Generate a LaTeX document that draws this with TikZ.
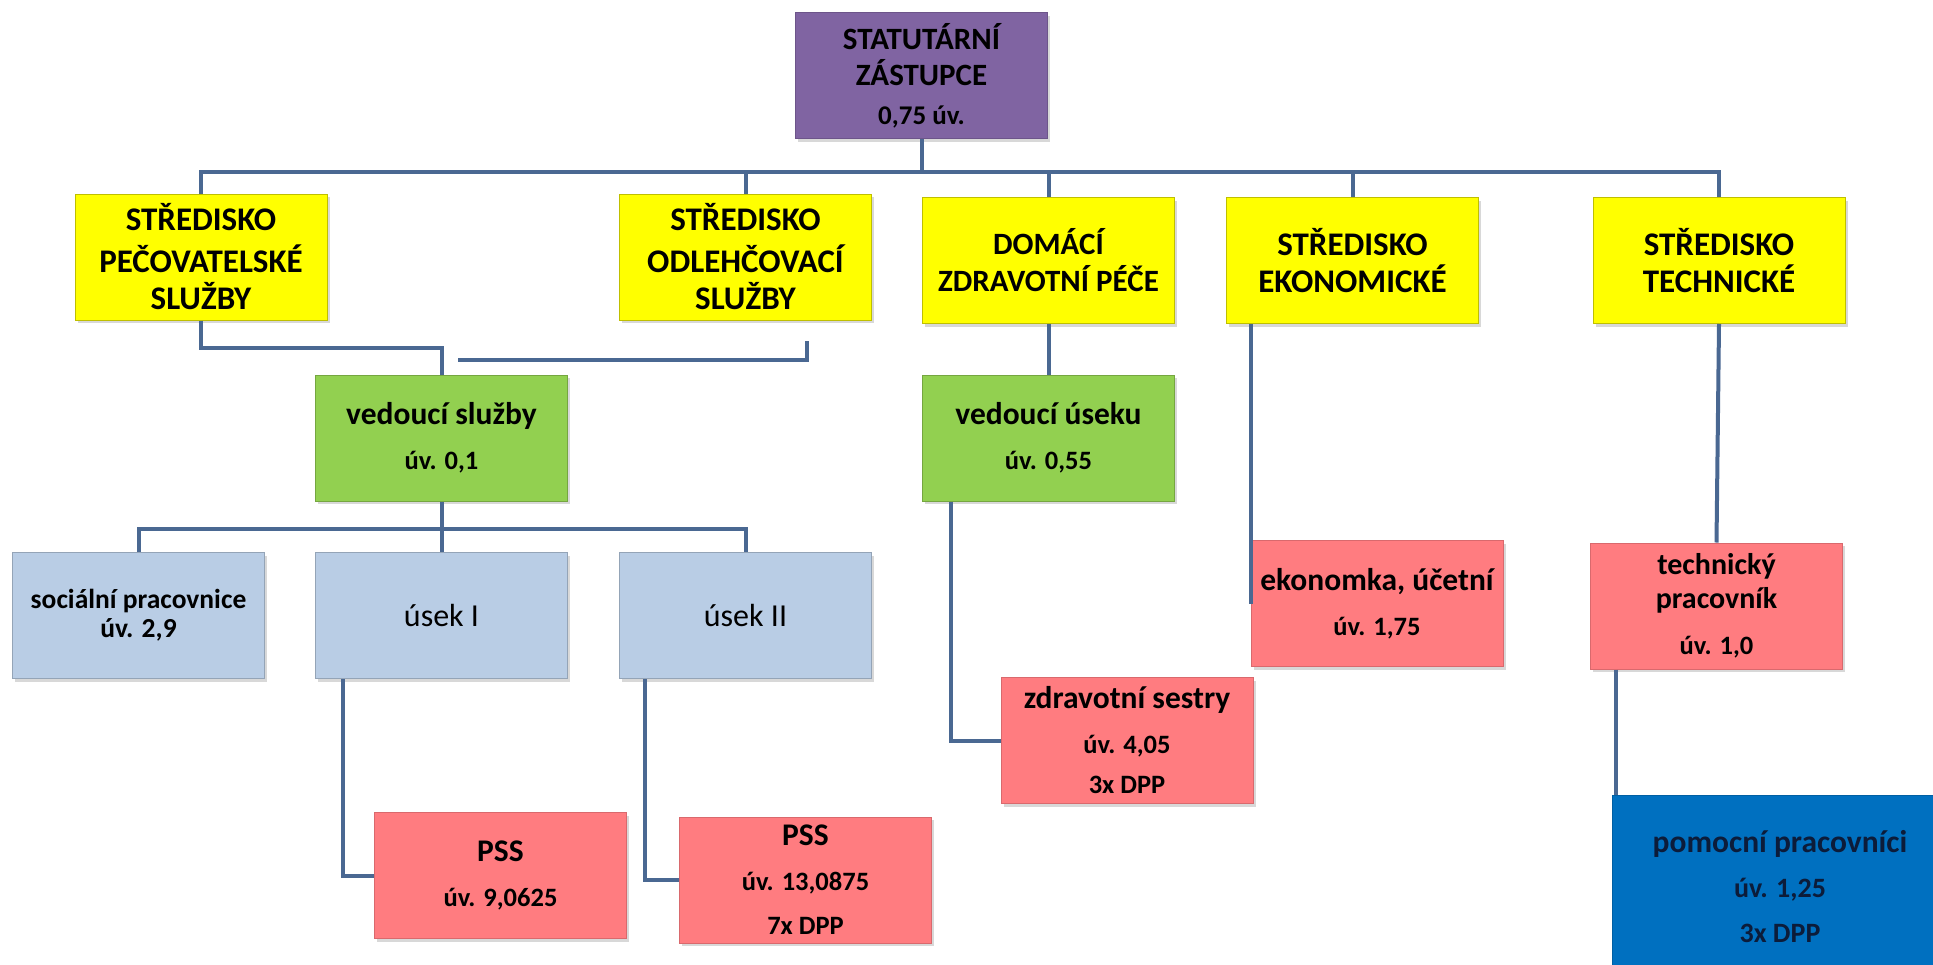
\documentclass[tikz,border=0pt]{standalone}
\usepackage{fontspec}
\setmainfont{Carlito}
\usepackage{tikz}
\usetikzlibrary{shadows}
\definecolor{orgpurple}{RGB}{128,100,162}
\definecolor{orgyellow}{RGB}{255,255,0}
\definecolor{orggreen}{RGB}{146,208,80}
\definecolor{orggrey}{RGB}{185,205,229}
\definecolor{orgred}{RGB}{255,124,128}
\definecolor{orgblue}{RGB}{0,112,192}
\definecolor{orgnavy}{RGB}{12,28,58}
\definecolor{orglink}{RGB}{74,104,146}
\newcommand{\uvline}{\fontsize{26.5}{45}\selectfont}

\begin{document}
\begin{tikzpicture}[x=1pt,y=-1pt,
            plainbox/.style={rectangle, minimum width=252pt, minimum height=126pt,
                inner sep=2pt, align=center, text=black, line width=1pt,
                font=\bfseries\fontsize{31.5}{45}\selectfont},
            box/.style={plainbox,
                drop shadow={shadow xshift=2.5pt, shadow yshift=-3pt, opacity=.3}},
            topbox/.style={box, fill=orgpurple, draw=orgpurple!85!black,
                font=\bfseries\fontsize{31}{36}\selectfont},
            unitbox/.style={box, fill=orgyellow, draw=orgyellow!75!black,
                font=\bfseries\fontsize{33}{37}\selectfont},
            headbox/.style={box, fill=orggreen, draw=orggreen!80!black},
            partbox/.style={box, fill=orggrey, draw=orggrey!80!black},
            staffbox/.style={box, fill=orgred, draw=orgred!85!black},
            helpbox/.style={plainbox, fill=orgblue, draw=orgblue!85!black, text=orgnavy,
                minimum width=336pt, minimum height=184pt},
            link/.style={draw=orglink, line width=4pt}]

            \fill[white] (0,0) rectangle (1933,964);
            \useasboundingbox (0,0) rectangle (1933,964);

            % vedeni a strediska
            \node[topbox] (stat) at (921.5,75.5) {STATUTÁRNÍ\\ZÁSTUPCE\\[3pt]{\fontsize{27}{36}\selectfont 0,75 úv.}};
            \node[unitbox] (sps) at (201,257) {STŘEDISKO\\[5pt]PEČOVATELSKÉ\\SLUŽBY};
            \node[unitbox] (osl) at (745.5,257) {STŘEDISKO\\[5pt]ODLEHČOVACÍ\\SLUŽBY};
            \node[unitbox, font=\bfseries\fontsize{31}{37}\selectfont] (dzp) at (1048.5,260.5) {DOMÁCÍ\\ZDRAVOTNÍ PÉČE};
            \node[unitbox] (sek) at (1352.5,260.5) {STŘEDISKO\\EKONOMICKÉ};
            \node[unitbox] (stech) at (1719,260.5) {STŘEDISKO\\TECHNICKÉ};

            % vedouci
            \node[headbox] (vs) at (441.5,438) {vedoucí služby\\{\uvline úv. 0,1}};
            \node[headbox] (vu) at (1048.5,438) {vedoucí úseku\\{\uvline úv. 0,55}};

            % useky a pracovnici
            \node[partbox, font=\bfseries\fontsize{27.5}{29}\selectfont] (soc) at (138.5,615.5) {sociální pracovnice\\úv. 2,9};
            \node[partbox, font=\fontsize{32}{45}\selectfont] (u1) at (441.5,615.5) {úsek I};
            \node[partbox, font=\fontsize{32}{45}\selectfont] (u2) at (745.5,615.5) {úsek II};
            \node[staffbox] (ekon) at (1377,603.5) {ekonomka, účetní\\{\uvline úv. 1,75}};
            \node[staffbox, font=\bfseries\fontsize{30}{34}\selectfont] (tp) at (1716.5,606) {technický\\pracovník\\[12pt]{\uvline úv. 1,0}};
            \node[staffbox] (zs) at (1127,740.5) {zdravotní sestry\\{\uvline úv. 4,05}\\[-5pt]{\uvline 3x DPP}};
            \node[staffbox] (pss1) at (500.5,875.5) {PSS\\{\uvline úv. 9,0625}};
            \node[staffbox] (pss2) at (805.5,880) {PSS\\{\uvline úv. 13,0875}\\[-1pt]{\uvline 7x DPP}};
            \node[helpbox] (pp) at (1780,887) {pomocní pracovníci\\{\fontsize{28}{44}\selectfont úv. 1,25}\\{\fontsize{28}{44}\selectfont 3x DPP}};

            % spojnice
            \coordinate (bus) at (0,172);
            \coordinate (bus2) at (0,529);
            \draw[link] (stat.south) -- (stat.south |- bus);
            \draw[link] (sps.north) -- (sps.north |- bus) -- (stech.north |- bus) -- (stech.north);
            \foreach \n in {osl,dzp,sek}
                \draw[link] (\n.north |- bus) -- (\n.north);

            \draw[link] (sps.south) -- ++(0,27) -| (vs.north);
            \coordinate (oslA) at (807,341);
            \coordinate (oslB) at (458,360);
            \draw[link] (oslA) |- (oslB);
            \draw[link] (dzp.south) -- (vu.north);
            \draw[link] (sek.south -| ekon.west) -- (ekon.west);
            \draw[link] (stech.south) -- (tp.north);
            \coordinate (ppcorner) at ([xshift=4pt]pp.north west);
            \draw[link] (tp.south -| ppcorner) -- (ppcorner);

            \draw[link] (vs.south) -- (vs.south |- bus2);
            \draw[link] (soc.north) -- (soc.north |- bus2) -- (u2.north |- bus2) -- (u2.north);
            \draw[link] (u1.north |- bus2) -- (u1.north);
            \draw[link] ([xshift=28pt]u1.south west) |- (pss1.west);
            \draw[link] ([xshift=26pt]u2.south west) |- (pss2.west);
            \draw[link] ([xshift=29pt]vu.south west) |- (zs.west);

        \end{tikzpicture}
\end{document}
